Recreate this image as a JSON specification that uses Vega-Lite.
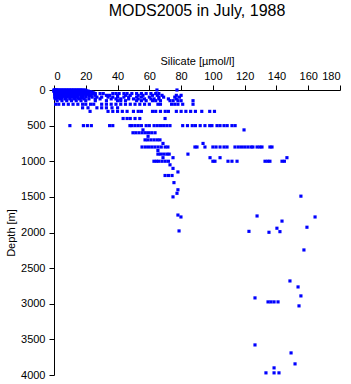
{
"$schema": "https://vega.github.io/schema/vega-lite/v6.json",
"width": 286, "height": 285,
"autosize": "none",
"padding": {"left": 54, "top": 90, "right": 11, "bottom": 9},
"background": "white",
"title": {"text": "MODS2005 in July, 1988", "font": "Liberation Sans", "fontSize": 16, "fontWeight": "normal", "color": "black", "anchor": "middle", "offset": 36},
"config": {
  "view": {"stroke": null},
  "axis": {"grid": false, "domainColor": "black", "tickColor": "black", "labelColor": "black", "titleColor": "black",
    "labelFont": "Liberation Sans", "titleFont": "Liberation Sans", "labelFontSize": 11, "titleFontSize": 11, "titleFontWeight": "normal", "tickSize": 5, "labelPadding": 4}
},
"data": {"values": [
{"si":0,"depth":0},{"si":0.5,"depth":0},{"si":1,"depth":0},{"si":1.5,"depth":0},{"si":2,"depth":0},{"si":3,"depth":0},{"si":4,"depth":0},{"si":5,"depth":0},{"si":6,"depth":0},{"si":7,"depth":0},{"si":8,"depth":0},{"si":9,"depth":0},{"si":10,"depth":0},{"si":11,"depth":0},{"si":12,"depth":0},{"si":13,"depth":0},{"si":14,"depth":0},{"si":15,"depth":0},{"si":16,"depth":0},{"si":17,"depth":0},{"si":18,"depth":0},{"si":19.5,"depth":0},{"si":64.8,"depth":0},{"si":77.4,"depth":0},
{"si":0.5,"depth":5},{"si":2,"depth":5},{"si":3.5,"depth":5},{"si":5,"depth":5},{"si":6.5,"depth":5},{"si":8,"depth":5},{"si":9.5,"depth":5},{"si":11,"depth":5},{"si":12.5,"depth":5},{"si":14,"depth":5},{"si":15.5,"depth":5},{"si":17,"depth":5},{"si":18.5,"depth":5},{"si":20,"depth":5},
{"si":0,"depth":10},{"si":1,"depth":10},{"si":2,"depth":10},{"si":3,"depth":10},{"si":4,"depth":10},{"si":6,"depth":10},{"si":8,"depth":10},{"si":10,"depth":10},{"si":12,"depth":10},{"si":14,"depth":10},{"si":16,"depth":10},{"si":18,"depth":10},{"si":20,"depth":10},
{"si":0.5,"depth":15},{"si":2,"depth":15},{"si":3.5,"depth":15},{"si":5,"depth":15},{"si":6.5,"depth":15},{"si":8,"depth":15},{"si":9.5,"depth":15},{"si":11,"depth":15},{"si":12.5,"depth":15},{"si":14,"depth":15},{"si":15.5,"depth":15},{"si":17,"depth":15},{"si":18.5,"depth":15},{"si":20,"depth":15},{"si":21.5,"depth":15},
{"si":0,"depth":20},{"si":1,"depth":20},{"si":3,"depth":20},{"si":5,"depth":20},{"si":7,"depth":20},{"si":9,"depth":20},{"si":11,"depth":20},{"si":13,"depth":20},{"si":15,"depth":20},{"si":17,"depth":20},{"si":19,"depth":20},{"si":21,"depth":20},
{"si":0.5,"depth":25},{"si":2,"depth":25},{"si":3.5,"depth":25},{"si":5,"depth":25},{"si":6.5,"depth":25},{"si":8,"depth":25},{"si":9.5,"depth":25},{"si":11,"depth":25},{"si":12.5,"depth":25},{"si":14,"depth":25},{"si":15.5,"depth":25},{"si":17,"depth":25},{"si":18.5,"depth":25},{"si":20,"depth":25},{"si":23,"depth":25},
{"si":0.5,"depth":30},{"si":2,"depth":30},{"si":4,"depth":30},{"si":6,"depth":30},{"si":8,"depth":30},{"si":10,"depth":30},{"si":12,"depth":30},{"si":14,"depth":30},{"si":16,"depth":30},{"si":18,"depth":30},{"si":20,"depth":30},{"si":22,"depth":30},{"si":24,"depth":30},
{"si":0.5,"depth":40},{"si":2,"depth":40},{"si":3.5,"depth":40},{"si":5,"depth":40},{"si":6.5,"depth":40},{"si":8,"depth":40},{"si":9.5,"depth":40},{"si":11,"depth":40},{"si":12.5,"depth":40},{"si":14,"depth":40},{"si":15.5,"depth":40},{"si":17,"depth":40},{"si":18.5,"depth":40},{"si":20,"depth":40},{"si":22,"depth":40},{"si":25,"depth":40},
{"si":0.5,"depth":50},{"si":2,"depth":50},{"si":4,"depth":50},{"si":6,"depth":50},{"si":8,"depth":50},{"si":10,"depth":50},{"si":12,"depth":50},{"si":15,"depth":50},{"si":18,"depth":50},{"si":21,"depth":50},{"si":24,"depth":50},{"si":26,"depth":50},{"si":29,"depth":50},{"si":31,"depth":50},{"si":37,"depth":50},{"si":39,"depth":50},{"si":41,"depth":50},{"si":44,"depth":50},{"si":46,"depth":50},{"si":49,"depth":50},{"si":52,"depth":50},{"si":55,"depth":50},{"si":58,"depth":50},{"si":61,"depth":50},{"si":64,"depth":50},{"si":66,"depth":50},
{"si":0.5,"depth":60},{"si":2,"depth":60},{"si":3.5,"depth":60},{"si":5,"depth":60},{"si":6.5,"depth":60},{"si":8,"depth":60},{"si":9.5,"depth":60},{"si":11,"depth":60},{"si":12.5,"depth":60},{"si":14,"depth":60},{"si":15.5,"depth":60},{"si":17,"depth":60},{"si":18.5,"depth":60},{"si":21,"depth":60},{"si":24,"depth":60},
{"si":1,"depth":75},{"si":3,"depth":75},{"si":5,"depth":75},{"si":7,"depth":75},{"si":9,"depth":75},{"si":11,"depth":75},{"si":14,"depth":75},{"si":17,"depth":75},{"si":20,"depth":75},{"si":23,"depth":75},{"si":26,"depth":75},{"si":33,"depth":75},{"si":35,"depth":75},{"si":40,"depth":75},{"si":45,"depth":75},{"si":48,"depth":75},{"si":53,"depth":75},{"si":56,"depth":75},{"si":62,"depth":75},{"si":65,"depth":75},{"si":68,"depth":75},{"si":77,"depth":75},{"si":80,"depth":75},
{"si":0.5,"depth":88},{"si":2.5,"depth":88},{"si":4.5,"depth":88},{"si":6.5,"depth":88},{"si":8.5,"depth":88},{"si":10.5,"depth":88},{"si":12.5,"depth":88},{"si":15,"depth":88},{"si":18,"depth":88},{"si":22,"depth":88},
{"si":1,"depth":100},{"si":3,"depth":100},{"si":5,"depth":100},{"si":8,"depth":100},{"si":11,"depth":100},{"si":14,"depth":100},{"si":17,"depth":100},{"si":20,"depth":100},{"si":24,"depth":100},{"si":27,"depth":100},{"si":30,"depth":100},{"si":34,"depth":100},{"si":37,"depth":100},{"si":40,"depth":100},{"si":44,"depth":100},{"si":47,"depth":100},{"si":52,"depth":100},{"si":55,"depth":100},{"si":60,"depth":100},{"si":66,"depth":100},{"si":69,"depth":100},{"si":76,"depth":100},{"si":79,"depth":100},
{"si":0.5,"depth":112},{"si":2.5,"depth":112},{"si":5,"depth":112},{"si":7.5,"depth":112},{"si":10,"depth":112},{"si":12.5,"depth":112},{"si":15,"depth":112},{"si":18,"depth":112},
{"si":1,"depth":125},{"si":4,"depth":125},{"si":7,"depth":125},{"si":10,"depth":125},{"si":13,"depth":125},{"si":16,"depth":125},{"si":19,"depth":125},{"si":22,"depth":125},{"si":26,"depth":125},{"si":29,"depth":125},{"si":36,"depth":125},{"si":39,"depth":125},{"si":42,"depth":125},{"si":47,"depth":125},{"si":50,"depth":125},{"si":53,"depth":125},{"si":57,"depth":125},{"si":61,"depth":125},{"si":63,"depth":125},{"si":66,"depth":125},{"si":72,"depth":125},{"si":77,"depth":125},
{"si":2,"depth":150},{"si":5,"depth":150},{"si":8,"depth":150},{"si":11,"depth":150},{"si":14,"depth":150},{"si":17,"depth":150},{"si":20,"depth":150},{"si":26,"depth":150},{"si":33,"depth":150},{"si":40,"depth":150},{"si":42,"depth":150},{"si":45,"depth":150},{"si":52,"depth":150},{"si":55,"depth":150},{"si":58,"depth":150},{"si":62,"depth":150},{"si":64,"depth":150},{"si":67,"depth":150},{"si":73,"depth":150},{"si":75,"depth":150},{"si":78,"depth":150},{"si":80,"depth":150},{"si":87.5,"depth":150},
{"si":1,"depth":200},{"si":3,"depth":200},{"si":6,"depth":200},{"si":9,"depth":200},{"si":12,"depth":200},{"si":15,"depth":200},{"si":18,"depth":200},{"si":20,"depth":200},{"si":23,"depth":200},{"si":25,"depth":200},{"si":30,"depth":200},{"si":33,"depth":200},{"si":36,"depth":200},{"si":39,"depth":200},{"si":42,"depth":200},{"si":45,"depth":200},{"si":48,"depth":200},{"si":51,"depth":200},{"si":54,"depth":200},{"si":57,"depth":200},{"si":60,"depth":200},{"si":65.4,"depth":200},{"si":67,"depth":200},{"si":74,"depth":200},{"si":76,"depth":200},{"si":78,"depth":200},{"si":81,"depth":200},{"si":87.5,"depth":200},
{"si":18,"depth":250},{"si":21.4,"depth":250},{"si":27,"depth":250},{"si":30,"depth":250},{"si":33,"depth":250},{"si":36.5,"depth":250},{"si":40,"depth":250},
{"si":22.7,"depth":300},{"si":34,"depth":300},{"si":37,"depth":300},{"si":40,"depth":300},{"si":43,"depth":300},{"si":46,"depth":300},{"si":50,"depth":300},{"si":53,"depth":300},{"si":55,"depth":300},{"si":62,"depth":300},{"si":64,"depth":300},{"si":67,"depth":300},{"si":70,"depth":300},{"si":72,"depth":300},{"si":77,"depth":300},{"si":80,"depth":300},{"si":83,"depth":300},{"si":86,"depth":300},{"si":89,"depth":300},{"si":93,"depth":300},{"si":98,"depth":300},{"si":101,"depth":300},
{"si":43.5,"depth":400},{"si":46,"depth":400},{"si":48,"depth":400},{"si":51,"depth":400},{"si":54,"depth":400},{"si":69.9,"depth":400},
{"si":10,"depth":500},{"si":18.5,"depth":500},{"si":21,"depth":500},{"si":23.5,"depth":500},{"si":35,"depth":500},{"si":37,"depth":500},{"si":47.8,"depth":500},{"si":49,"depth":500},{"si":51,"depth":500},{"si":53,"depth":500},{"si":55,"depth":500},{"si":58,"depth":500},{"si":60,"depth":500},{"si":63,"depth":500},{"si":65,"depth":500},{"si":67,"depth":500},{"si":69,"depth":500},{"si":71,"depth":500},{"si":73,"depth":500},{"si":81,"depth":500},{"si":84,"depth":500},{"si":87,"depth":500},{"si":89,"depth":500},{"si":92,"depth":500},{"si":95,"depth":500},{"si":98,"depth":500},{"si":99.4,"depth":500},{"si":102.6,"depth":500},{"si":104.5,"depth":500},{"si":107,"depth":500},{"si":109,"depth":500},{"si":112,"depth":500},{"si":114,"depth":500},
{"si":56,"depth":560},{"si":119.6,"depth":560},
{"si":49.7,"depth":600},{"si":51.5,"depth":600},{"si":53.5,"depth":600},{"si":55.5,"depth":600},{"si":57.5,"depth":600},{"si":59.5,"depth":600},{"si":61.5,"depth":600},{"si":63.6,"depth":600},
{"si":59.2,"depth":650},
{"si":57.3,"depth":700},{"si":59,"depth":700},{"si":61,"depth":700},{"si":63,"depth":700},{"si":65,"depth":700},{"si":66.7,"depth":700},
{"si":68.6,"depth":750},{"si":93.8,"depth":750},
{"si":55.4,"depth":800},{"si":57.5,"depth":800},{"si":59.5,"depth":800},{"si":61.5,"depth":800},{"si":63.5,"depth":800},{"si":65.5,"depth":800},{"si":67.5,"depth":800},{"si":70,"depth":800},{"si":71.7,"depth":800},{"si":88.7,"depth":800},{"si":90,"depth":800},{"si":95,"depth":800},{"si":100,"depth":800},{"si":102,"depth":800},{"si":104.5,"depth":800},{"si":107,"depth":800},{"si":108.9,"depth":800},{"si":113.9,"depth":800},{"si":116,"depth":800},{"si":118,"depth":800},{"si":120,"depth":800},{"si":122,"depth":800},{"si":124,"depth":800},{"si":125.2,"depth":800},{"si":127.8,"depth":800},{"si":129.5,"depth":800},{"si":130.9,"depth":800},{"si":135.9,"depth":800},{"si":137.2,"depth":800},
{"si":65.4,"depth":850},
{"si":65.4,"depth":900},{"si":67,"depth":900},{"si":69,"depth":900},{"si":71,"depth":900},{"si":72.5,"depth":900},{"si":84.3,"depth":900},
{"si":68.6,"depth":950},{"si":74.9,"depth":950},{"si":98.2,"depth":950},{"si":104.5,"depth":950},{"si":146.6,"depth":950},
{"si":62.9,"depth":1000},{"si":64.5,"depth":1000},{"si":66,"depth":1000},{"si":68,"depth":1000},{"si":70,"depth":1000},{"si":72,"depth":1000},{"si":100,"depth":1000},{"si":101.3,"depth":1000},{"si":109.5,"depth":1000},{"si":112,"depth":1000},{"si":115.2,"depth":1000},{"si":132.8,"depth":1000},{"si":134.5,"depth":1000},{"si":135.9,"depth":1000},{"si":143.5,"depth":1000},{"si":145,"depth":1000},
{"si":73,"depth":1050},{"si":74.9,"depth":1100},{"si":78,"depth":1150},
{"si":69.9,"depth":1200},{"si":72,"depth":1200},{"si":74.3,"depth":1200},
{"si":75.5,"depth":1300},{"si":78,"depth":1400},{"si":77.4,"depth":1450},
{"si":74.9,"depth":1500},{"si":155.4,"depth":1490},
{"si":78,"depth":1755},{"si":79.9,"depth":1782},{"si":164.3,"depth":1782},{"si":127.8,"depth":1768},{"si":143.5,"depth":1840},
{"si":140.3,"depth":1940},{"si":159.2,"depth":1926},
{"si":78.7,"depth":1978},{"si":122.7,"depth":1984},{"si":135.3,"depth":1997},{"si":142.2,"depth":1988},
{"si":157.3,"depth":2245},{"si":148.5,"depth":2680},{"si":153.6,"depth":2764},{"si":155.4,"depth":2890},{"si":126.5,"depth":2918},
{"si":134.7,"depth":2974},{"si":136.5,"depth":2974},{"si":138.5,"depth":2974},{"si":141,"depth":2974},
{"si":154.2,"depth":3030},{"si":126.5,"depth":3578},{"si":149.2,"depth":3690},{"si":151.7,"depth":3844},{"si":138.5,"depth":3900},
{"si":133.4,"depth":3970},{"si":138.5,"depth":3970},{"si":141.6,"depth":3970}
]},
"mark": {"type": "square", "size": 10, "color": "#0000ff", "opacity": 1, "filled": true},
"encoding": {
  "x": {"field": "si", "type": "quantitative", "scale": {"domain": [0, 180], "nice": false, "zero": false},
    "axis": {"orient": "top", "title": "Silicate [µmol/l]", "values": [0,20,40,60,80,100,120,140,160,180], "titlePadding": 4}},
  "y": {"field": "depth", "type": "quantitative", "scale": {"domain": [0, 4000], "reverse": true, "nice": false, "zero": false},
    "axis": {"title": "Depth [m]", "format": "d", "values": [0,500,1000,1500,2000,2500,3000,3500,4000], "titlePadding": 4}}
}
}
